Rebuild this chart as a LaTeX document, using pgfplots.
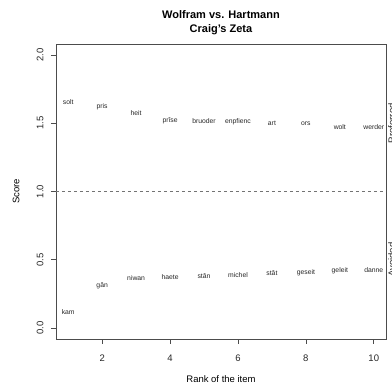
\documentclass[border=0pt]{standalone}
\usepackage{pgfplots}
\pgfplotsset{compat=1.18}
\usepackage{graphicx}
\usepackage{pgfplotstable}
\usepackage{fontspec}
\setmainfont{Liberation Sans}
\pgfplotstableread{
x y label
1 1.653 solt
2 1.617 pris
3 1.573 heit
4 1.520 prîse
5 1.513 bruoder
6 1.513 enpfienc
7 1.500 art
8 1.500 ors
9 1.471 wolt
10 1.471 werder
}\preferred
\pgfplotstableread{
x y label
1 0.119 kam
2 0.313 gân
3 0.369 niwan
4 0.373 haete
5 0.380 stân
6 0.385 michel
7 0.402 stât
8 0.405 geseit
9 0.422 geleit
10 0.424 danne
}\avoided
\begin{document}
\begin{tikzpicture}
\begin{axis}[
  scale only axis, width=330pt, height=295pt,
  at={(0,0)}, anchor=south west,
  xmin=0.64, xmax=10.36, ymin=-0.08, ymax=2.08,
  xtick={2,4,6,8,10}, ytick={0,0.5,1,1.5,2},
  yticklabels={\rotatebox{90}{0.0},\rotatebox{90}{0.5},\rotatebox{90}{1.0},\rotatebox{90}{1.5},\rotatebox{90}{2.0}},
  /pgf/number format/assume math mode=true,
  ticklabel style={font=\fontsize{9.5}{11}\selectfont, text=black!85},
  yticklabel style={anchor=east, xshift=-4pt},
  xticklabel style={anchor=north, yshift=-7pt},
  tick align=outside, tick pos=left, major tick length=5pt,
  tick style={black!70, line width=0.6pt},
  axis line style={black!70, line width=0.8pt},
  title={Wolfram vs. Hartmann\\Craig's Zeta},
  title style={align=center, at={(0.5,1)}, anchor=south, yshift=3pt, inner sep=0pt,
    font=\bfseries\fontsize{11}{14}\selectfont},
  xlabel={Rank of the item},
  xlabel style={at={(axis description cs:0.5,0)}, anchor=center, yshift=-40pt, font=\fontsize{9.5}{11}\selectfont},
  ylabel={Score},
  ylabel style={at={(axis description cs:0,0.5)}, anchor=center, yshift=40pt, font=\fontsize{9.5}{11}\selectfont},
  clip=false,
]
\addplot[draw=none, mark=none, nodes near coords, point meta=explicit symbolic,
  every node near coord/.style={anchor=center, inner sep=0pt, font=\fontsize{6.8}{8}\selectfont, text=black!85}]
  table[x=x, y=y, meta=label] {\preferred};
\addplot[draw=none, mark=none, nodes near coords, point meta=explicit symbolic,
  every node near coord/.style={anchor=center, inner sep=0pt, font=\fontsize{6.8}{8}\selectfont, text=black!85}]
  table[x=x, y=y, meta=label] {\avoided};
\addplot[black!55, line width=0.9pt, dash pattern=on 3pt off 3pt] coordinates {(0.64,1) (10.36,1)};
\node[rotate=90, anchor=north, inner sep=0pt, font=\fontsize{9.5}{11}\selectfont, text=black!85]
  at ([xshift=2pt]axis cs:10.36,1.5) {Preferred};
\node[rotate=90, anchor=north, inner sep=0pt, font=\fontsize{9.5}{11}\selectfont, text=black!85]
  at ([xshift=2pt]axis cs:10.36,0.5) {Avoided};
\end{axis}
\pgfresetboundingbox
\path[use as bounding box] (-56pt,-47pt) rectangle (336pt,339pt);
\end{tikzpicture}
\end{document}
